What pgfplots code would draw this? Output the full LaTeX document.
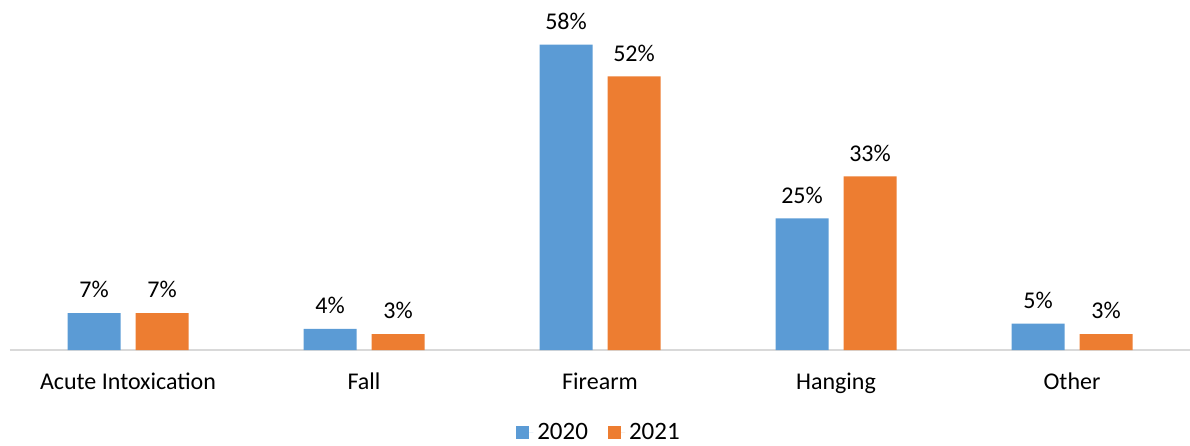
\documentclass[border=0pt]{standalone}
\usepackage{fontspec}
\setmainfont{Carlito}
\usepackage{pgfplots}
\pgfplotsset{compat=1.18}
\definecolor{bblue}{HTML}{5B9BD5}
\definecolor{borange}{HTML}{ED7D31}
\definecolor{axgray}{HTML}{D9D9D9}

\begin{document}
\begin{tikzpicture}
\begin{axis}[
  name=ax,
  scale only axis,
  width=590pt, height=175pt,
  ybar, bar width=26.5pt,
  xmin=-0.5, xmax=4.5,
  ymin=0, ymax=66.5,
  xtick={0,1,2,3,4},
  xticklabels={Acute Intoxication, Fall, Firearm, Hanging, Other},
  major tick length=0pt,
  axis x line*=bottom,
  axis y line=none,
  /pgf/number format/assume math mode=true,
  x axis line style={axgray, line width=0.8pt, -},
  xticklabel style={font=\fontsize{12}{14}\selectfont, yshift=-8pt},
  nodes near coords={\pgfmathprintnumber{\pgfplotspointmeta}\%},
  nodes near coords style={font=\fontsize{12}{14}\selectfont, anchor=south, yshift=4pt},
  legend style={at={(0.5,-0.237)}, anchor=center, draw=none, font=\fontsize{12.5}{14}\selectfont,
    legend columns=2, /tikz/every odd column/.append style={column sep=0pt},
    /tikz/every even column/.append style={column sep=8pt}},
  legend image code/.code={\fill[#1] (0pt,-3.0pt) rectangle (6.5pt,3.5pt); \path (0pt,0pt) -- (8.5pt,0pt);},
]
\addplot[fill=bblue, draw=none, bar shift=-17pt] coordinates {(0,7) (1,4) (2,58) (3,25) (4,5)};
\addplot[fill=borange, draw=none, bar shift=17pt] coordinates {(0,7) (1,3) (2,52) (3,33) (4,3)};
\legend{2020, 2021}
\end{axis}
\pgfresetboundingbox
\path ([shift={(-5pt,-47.5pt)}]ax.south west) rectangle (ax.north east);
\end{tikzpicture}
\end{document}
